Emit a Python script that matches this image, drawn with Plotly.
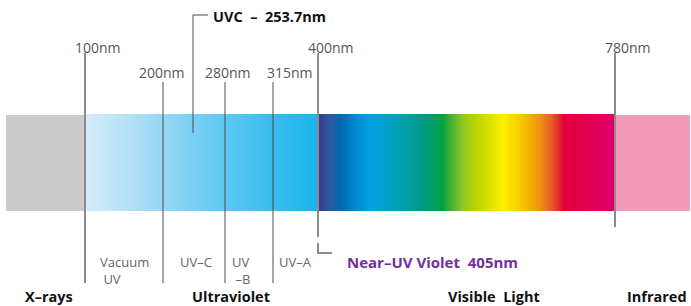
import numpy as np
import plotly.graph_objects as go

# ---------------- data ----------------
marker_nm = [100, 200, 280, 315, 400, 780]
marker_labels = ["100nm", "200nm", "280nm", "315nm", "400nm", "780nm"]
uvc_nm = 253.7
uvc_label = "UVC  \u2013  253.7nm"
violet_nm = 405
violet_label = "Near\u2013UV Violet  405nm"
sub_labels = ["Vacuum<br> UV", "UV\u2013C", "UV<br> \u2013B", "UV\u2013A"]
region_labels = ["X\u2013rays", "Ultraviolet", "Visible  Light", "Infrared"]

# schematic (non-linear) wavelength axis: breakpoints nm -> axis units
scale_nm = [0, 100, 200, 253.7, 280, 315, 400, 780, 1000]
scale_u = [6, 85, 163, 193, 225, 273, 318, 615, 690]


def X(nm):
    return float(np.interp(nm, scale_nm, scale_u))


W, H = 691, 306
BAR_TOP, BAR_BOT = 114, 211

fig = go.Figure()

# X-ray & infrared blocks
fig.add_shape(type="rect", x0=X(0), x1=X(100), y0=BAR_TOP + 1, y1=BAR_BOT,
              fillcolor="#cbcbcb", line_width=0, layer="below")
fig.add_shape(type="rect", x0=X(780) + 1, x1=X(1000), y0=BAR_TOP + 1, y1=BAR_BOT,
              fillcolor="#f29ab8", line_width=0, layer="below")

# UV + visible gradient as heatmap
stops = [
    (86, "#d4ebfa"), (110, "#c3e6f8"), (163, "#95d7f3"), (225, "#5dc8f0"),
    (273, "#38bdee"), (317.5, "#1ab5ec"),
    (317.5, "#363a8b"), (330, "#2c58a2"), (340, "#0068b2"), (352, "#0082c8"),
    (370, "#00a0e2"), (385, "#00a0cc"), (407, "#00a0a2"), (427, "#009a7a"),
    (443, "#00a43c"), (449, "#3aab3a"), (463, "#8fc822"), (480, "#c6d600"),
    (503, "#fbf000"), (523, "#f4c600"), (540, "#ee9012"), (551, "#e76024"),
    (559, "#e22a30"), (564, "#e0003c"), (590, "#e00052"), (615, "#e0006e"),
]
x0g, x1g = 86, 615
cs = [[(p - x0g) / (x1g - x0g), c] for p, c in stops]
xe = np.arange(x0g, x1g + 1, 1.0)
xc = (xe[:-1] + xe[1:]) / 2
fig.add_trace(go.Heatmap(x=xe, y=[BAR_TOP, BAR_BOT], z=[xc], colorscale=cs,
                         zmin=x0g, zmax=x1g, showscale=False, hoverinfo="skip"))

LIGHT = "#8c8c8c"
DARK = "#4a4a4a"


def vline(x, y0, y1, color, width):
    fig.add_trace(go.Scatter(x=[x, x], y=[y0, y1], mode="lines",
                             line=dict(color=color, width=width),
                             hoverinfo="skip", showlegend=False))


# marker lines
major = {100: (53, 283), 400: (53, 237), 780: (53, 227)}
for nm in marker_nm:
    if nm in major:
        vline(X(nm), major[nm][0], major[nm][1], LIGHT, 2)
    else:
        vline(X(nm), 82, 283, DARK, 1)

# UVC callout
fig.add_trace(go.Scatter(x=[X(uvc_nm) + 15, X(uvc_nm), X(uvc_nm)], y=[15, 15, 133],
                         mode="lines", line=dict(color=DARK, width=1),
                         hoverinfo="skip", showlegend=False))
# 405 nm callout
fig.add_trace(go.Scatter(x=[X(400), X(400), X(violet_nm) + 10], y=[243, 253, 253],
                         mode="lines", line=dict(color=LIGHT, width=2),
                         hoverinfo="skip", showlegend=False))

FONT = "Open Sans"
ann = []
label_pos = [(73, 47), (137, 72), (203, 72), (265, 72), (306, 47), (603, 47)]
for t, (x, y) in zip(marker_labels, label_pos):
    ann.append(dict(x=x, y=y, text=t, xanchor="left", yanchor="middle",
                    font=dict(family=FONT, size=14, color="#555555")))
ann.append(dict(x=211, y=16, text="<b>" + uvc_label + "</b>", xanchor="left",
                yanchor="middle", font=dict(family=FONT, size=14.5, color="#111111")))
sub_pos = [(98, 270), (178, 262), (230, 270), (277, 262)]
for t, (x, y) in zip(sub_labels, sub_pos):
    ann.append(dict(x=x, y=y, text=t, xanchor="left", yanchor="middle", align="left",
                    font=dict(family=FONT, size=13, color="#666666")))
ann.append(dict(x=345, y=262, text="<b>" + violet_label + "</b>", xanchor="left",
                yanchor="middle", font=dict(family=FONT, size=15, color="#7030a0")))
reg_pos = [(23, "left"), (190, "left"), (446, "left"), (689, "right")]
for t, (x, anc) in zip(region_labels, reg_pos):
    ann.append(dict(x=x, y=296, text="<b>" + t + "</b>", xanchor=anc,
                    yanchor="middle", font=dict(family=FONT, size=14.5, color="#111111")))
for a in ann:
    a.update(xref="x", yref="y", showarrow=False)

fig.update_layout(
    width=W, height=H, margin=dict(l=0, r=0, t=0, b=0),
    paper_bgcolor="white", plot_bgcolor="white", showlegend=False,
    xaxis=dict(range=[0, W], visible=False, fixedrange=True),
    yaxis=dict(range=[H, 0], visible=False, fixedrange=True),
    annotations=ann,
)
fig.write_html("out.html", config={"displayModeBar": False},
               post_script="document.body.style.margin='0';document.body.style.overflow='hidden';")
